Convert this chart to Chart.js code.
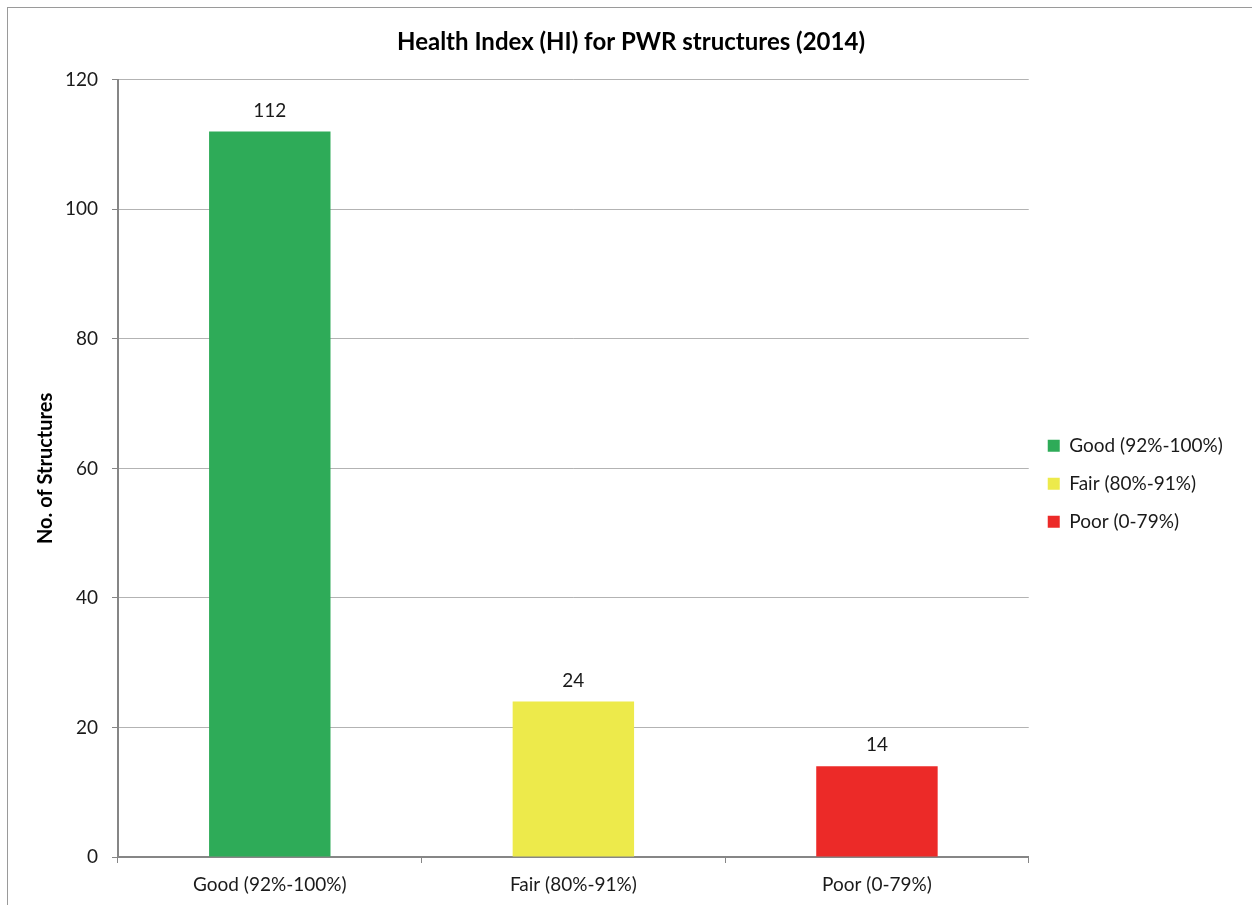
<!DOCTYPE html>
<html>
<head>
<meta charset="utf-8">
<script src="https://cdn.jsdelivr.net/npm/chart.js@4.4.1/dist/chart.umd.min.js"></script>
<style>
  html, body { margin: 0; padding: 0; background: #fff; }
  #wrap { position: relative; width: 1252px; height: 905px; }
  #frame { position: absolute; left: 7px; top: 7px; width: 1260px; height: 920px;
           border-top: 1px solid #9a9a9a; border-left: 1px solid #9a9a9a; pointer-events: none; }
  canvas { position: absolute; left: 0; top: 0; }
</style>
</head>
<body>
<div id="wrap">
  <canvas id="hi-chart" width="1252" height="905"></canvas>
  <div id="frame"></div>
</div>
<script>
// ============================================================
// Health Index chart — PWR structures 2014
// ============================================================

var categories = ['Good (92%-100%)', 'Fair (80%-91%)', 'Poor (0-79%)'];
var counts     = [112, 24, 14];
var barColors  = ['#2eab58', '#edea4b', '#ec2a28'];
var yTicks     = [0, 20, 40, 60, 80, 100, 120];

var FONT = 'Lato, "Open Sans", sans-serif';
var TEXT = '#1a1a1a';

// value labels above each bar
var barValueLabels = {
  id: 'barValueLabels',
  afterDatasetsDraw: function(chart) {
    var ctx = chart.ctx;
    var meta = chart.getDatasetMeta(0);
    ctx.save();
    ctx.font = '19px ' + FONT;
    ctx.fillStyle = TEXT;
    ctx.textAlign = 'center';
    ctx.textBaseline = 'middle';
    meta.data.forEach(function(bar, i) {
      ctx.fillText(String(counts[i]), bar.x, bar.y - 21);
    });
    ctx.restore();
  }
};

new Chart(document.getElementById('hi-chart'), {
  type: 'bar',
  data: {
    labels: categories,
    datasets: [{
      label: 'No. of Structures',
      data: counts,
      backgroundColor: barColors,
      borderWidth: 0,
      barPercentage: 0.4,
      categoryPercentage: 1.0
    }]
  },
  options: {
    responsive: false,
    animation: false,
    devicePixelRatio: 1,
    // negative right pad + trailing spaces in legend labels widen the legend box,
    // so the chart title centres on the full frame like the original
    layout: { padding: { left: 0, right: -10, top: 0, bottom: 0 } },
    plugins: {
      title: {
        display: true,
        text: 'Health Index (HI) for PWR structures (2014)',
        color: '#000',
        font: { family: FONT, size: 24, weight: 'bold' },
        padding: { top: 28, bottom: 23 }
      },
      legend: {
        position: 'right',
        title: { display: true, text: ' ', font: { size: 2 }, padding: { top: 0, bottom: 60 } },
        labels: {
          color: TEXT,
          font: { family: FONT, size: 19 },
          boxWidth: 12,
          boxHeight: 12,
          padding: 19,
          generateLabels: function(chart) {
            return categories.map(function(c, i) {
              return { text: c + '      ', fillStyle: barColors[i], strokeStyle: barColors[i],
                       fontColor: TEXT, hidden: false, lineWidth: 0, index: i };
            });
          }
        }
      },
      tooltip: { enabled: false }
    },
    scales: {
      x: {
        grid: { drawOnChartArea: false, drawTicks: true, tickLength: 6, color: '#868686', offset: true },
        border: { color: '#868686', width: 2 },
        ticks: { color: TEXT, font: { family: FONT, size: 19 }, padding: 10 },
        afterFit: function(s) { s.height = 48; }
      },
      y: {
        min: 0,
        max: 120,
        afterBuildTicks: function(s) { s.ticks = yTicks.map(function(v) { return { value: v }; }); },
        grid: { color: '#b3b3b3', lineWidth: 1, tickLength: 6, tickColor: '#868686' },
        border: { color: '#868686', width: 2 },
        ticks: { color: TEXT, font: { family: FONT, size: 19 }, padding: 14 },
        title: {
          display: true,
          text: 'No. of Structures',
          color: '#000',
          font: { family: FONT, size: 20, weight: 'bold' },
          padding: { top: 34, bottom: 0 }
        },
        afterFit: function(s) { s.width = 118; }
      }
    }
  },
  plugins: [barValueLabels]
});
</script>
</body>
</html>
